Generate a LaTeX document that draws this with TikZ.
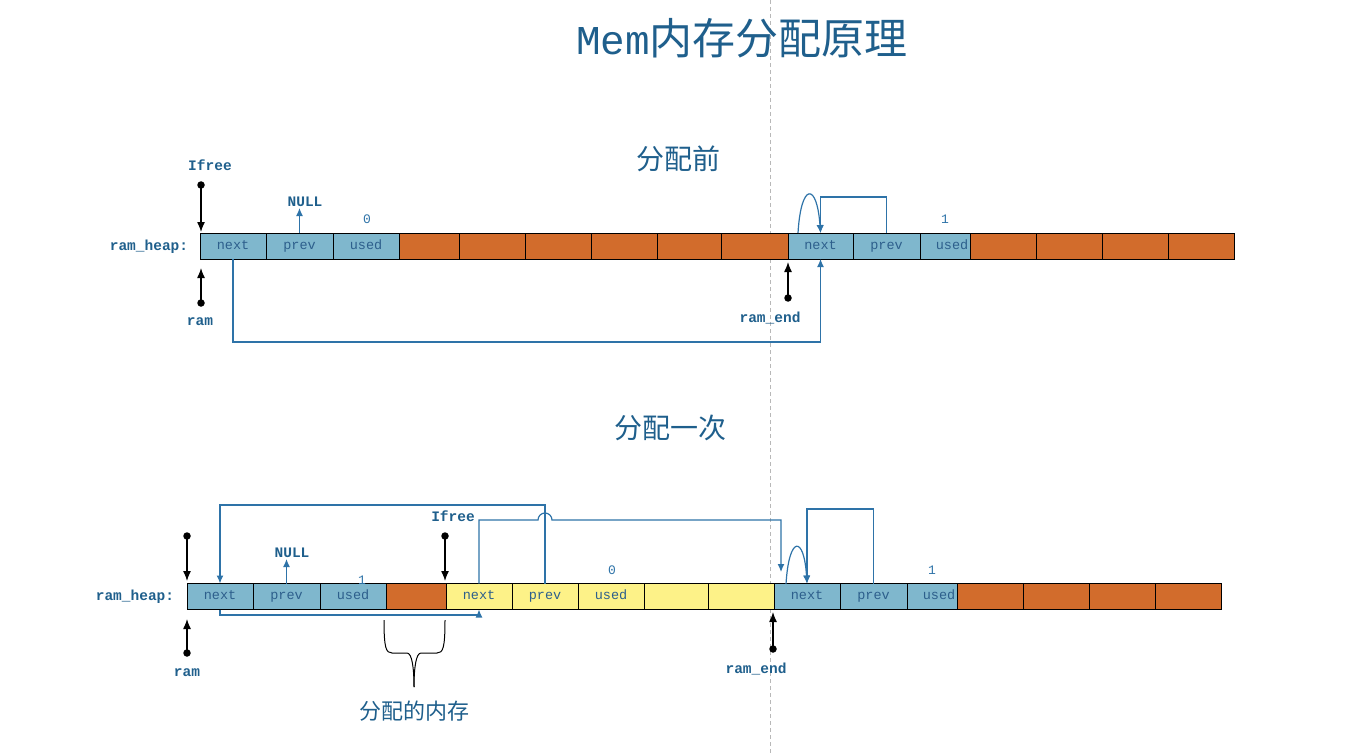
\documentclass[tikz,border=0pt]{standalone}
\usepackage{fontspec}
\setmainfont{Liberation Serif}
\newfontfamily\lmono{Liberation Mono}
\newfontfamily\cjk{Noto Sans CJK SC}
\usetikzlibrary{arrows.meta}
\definecolor{tblue}{RGB}{31,95,140}
\definecolor{lblue}{RGB}{46,115,168}
\definecolor{ctext}{RGB}{45,95,140}
\definecolor{cblue}{RGB}{127,183,205}
\definecolor{corange}{RGB}{210,108,44}
\definecolor{cyellow}{RGB}{253,242,136}
\begin{document}
\begin{tikzpicture}[x=1pt,y=-1pt,
  cell/.style={draw=black, line width=0.9pt, minimum height=26pt, inner sep=0pt, outer sep=0pt,
    text height=9pt, text depth=3pt,
    font=\lmono\fontsize{13.5}{13.5}\selectfont, text=ctext},
  bc/.style={cell, fill=cblue},
  oc/.style={cell, fill=corange},
  yc/.style={cell, fill=cyellow},
  lbl/.style={font=\lmono\bfseries\fontsize{14.5}{15}\selectfont, text=tblue, inner sep=0pt},
  num/.style={font=\lmono\fontsize{13}{13}\selectfont, text=lblue, inner sep=0pt},
  blink/.style={draw=lblue, line width=1.2pt, -{Latex[length=8pt,width=7pt]}},
  barrow/.style={draw=black, line width=1.3pt, -{Latex[length=10pt,width=8pt]}},
  dot/.style={circle, fill=black, inner sep=0pt, minimum size=7.5pt},
  heading/.style={font=\cjk\fontsize{28}{28}\selectfont, text=tblue, inner sep=0pt}]
\useasboundingbox (0,0) rectangle (1364,754);
% dashed guide
\draw[black!28, line width=1pt, dash pattern=on 4pt off 3pt] (770,0) -- (770,754);

% title
\node[inner sep=0pt, text=tblue] (title) at (742,38) {\lmono\fontsize{41}{41}\selectfont Mem\cjk\fontsize{43}{43}\selectfont 内存分配原理};
\node[heading] (h1) at (678,159) {分配前};
\node[heading] (h2) at (670,428) {分配一次};

% ===== top row =====
\node[lbl] (heapT) at (149,247) {ram\_heap:};
\node[bc, minimum width=66pt] (t1) at (233,246) {next};
\node[bc, minimum width=67pt] (t2) at (299.5,246) {prev};
\node[bc, minimum width=66pt] (t3) at (366,246) {used};
\node[oc, minimum width=60pt] (t4) at (429,246) {};
\node[oc, minimum width=66pt] (t5) at (492,246) {};
\node[oc, minimum width=66pt] (t6) at (558,246) {};
\node[oc, minimum width=66pt] (t7) at (624,246) {};
\node[oc, minimum width=64pt] (t8) at (689,246) {};
\node[oc, minimum width=67pt] (t9) at (754.5,246) {};
\node[bc, minimum width=65pt] (t10) at (820.5,246) {next};
\node[bc, minimum width=67pt] (t11) at (886.5,246) {prev};
\node[bc, minimum width=50pt] (t12) at (945,246) {};
\node[cell, draw=none, fill=none] (t12txt) at (952,246) {used};
\node[oc, minimum width=66pt] (t13) at (1003,246) {};
\node[oc, minimum width=66pt] (t14) at (1069,246) {};
\node[oc, minimum width=66pt] (t15) at (1135,246) {};
\node[oc, minimum width=66pt] (t16) at (1201,246) {};

\node[lbl] (ifreeT) at (210,165) {Ifree};
\node[dot] (ifreeTd) at (201,185) {};
\draw[barrow] (ifreeTd.center) -- (201,232);
\node[dot] (ramTd) at (201,303) {};
\draw[barrow] (ramTd.center) -- (201,268);
\node[lbl] (ramT) at (200,322) {ram};
\node[lbl] (nullT) at (305,202) {NULL};
\draw[blink] (t2.north) -- (299.5,208);
\node[num] (zeroT) at (367,219) {0};
\node[num] (oneT) at (945,219) {1};
\node[dot] (ramendTd) at (788,298) {};
\draw[barrow] (ramendTd.center) -- (788,262);
\node[lbl] (ramendT) at (770,318) {ram\_end};

\coordinate (yT0) at (0,342);
\coordinate (yT1) at (0,197);
\draw[blink] (t1.south) -- (t1.south |- yT0) -| (t10.south);
\draw[blink] (t11.north) -- (t11.north |- yT1) -| (t10.north);
\draw[blink] (798,233) .. controls (801,182) and (817,182) .. (t10.north);

% ===== bottom row =====
\node[lbl] (heapB) at (135,597) {ram\_heap:};
\node[bc, minimum width=66pt] (b1) at (220,596.5) {next};
\node[bc, minimum width=67pt] (b2) at (286.5,596.5) {prev};
\node[bc, minimum width=66pt] (b3) at (353,596.5) {used};
\node[oc, minimum width=60pt] (b4) at (416,596.5) {};
\node[yc, minimum width=66pt] (b5) at (479,596.5) {next};
\node[yc, minimum width=66pt] (b6) at (545,596.5) {prev};
\node[yc, minimum width=66pt] (b7) at (611,596.5) {used};
\node[yc, minimum width=64pt] (b8) at (676,596.5) {};
\node[yc, minimum width=66pt] (b9) at (741,596.5) {};
\node[bc, minimum width=66pt] (b10) at (807,596.5) {next};
\node[bc, minimum width=67pt] (b11) at (873.5,596.5) {prev};
\node[bc, minimum width=50pt] (b12) at (932,596.5) {};
\node[cell, draw=none, fill=none] (b12txt) at (939,596.5) {used};
\node[oc, minimum width=66pt] (b13) at (990,596.5) {};
\node[oc, minimum width=66pt] (b14) at (1056,596.5) {};
\node[oc, minimum width=66pt] (b15) at (1122,596.5) {};
\node[oc, minimum width=66pt] (b16) at (1188,596.5) {};

\node[dot] (topBd) at (187,536) {};
\draw[barrow] (topBd.center) -- (187,581);
\node[dot] (ramBd) at (187,653) {};
\draw[barrow] (ramBd.center) -- (187,619);
\node[lbl] (ramB) at (187,673) {ram};
\node[lbl] (nullB) at (292,553) {NULL};
\draw[blink] (b2.north) -- (286.5,559);
\node[num] (oneB1) at (362,580) {1};
\node[num] (zeroB) at (612,570) {0};
\node[num] (oneB2) at (932,570) {1};

\node[lbl] (ifreeB) at (453,516) {Ifree};
\node[dot] (ifreeBd) at (445,536) {};
\draw[barrow] (ifreeBd.center) -- (445,581);

\node[dot] (ramendBd) at (773,649) {};
\draw[barrow] (ramendBd.center) -- (773,612);
\node[lbl] (ramendB) at (756,669) {ram\_end};

\coordinate (yB1) at (0,505);
\coordinate (yB2) at (0,520);
\coordinate (yB3) at (0,615);
\coordinate (yB4) at (0,509);
\coordinate (ifreeEndB) at (781,572);
\draw[blink] (b6.north) -- (b6.north |- yB1) -| (b1.north);
\draw[blink] (b5.north) -- (b5.north |- yB2) -- (538,520) arc[start angle=180, end angle=360, radius=7] -- (ifreeEndB |- yB2) -- (ifreeEndB);
\draw[blink] (b1.south) -- (b1.south |- yB3) -| (b5.south);
\draw[blink] (b11.north) -- (b11.north |- yB4) -| (b10.north);
\draw[blink] (786,584) .. controls (789,535) and (804,535) .. (b10.north);

% brace
\draw[line width=1pt] (384,620) .. controls (384,648) and (386,653) .. (392,653) -- (407,653) .. controls (412,653) and (414,668) .. (414,687);
\draw[line width=1pt] (445,620) .. controls (445,648) and (443,653) .. (437,653) -- (421,653) .. controls (416,653) and (414,668) .. (414,687);
\node[font=\cjk\fontsize{22}{22}\selectfont, text=tblue, inner sep=0pt] (alloc) at (414,711) {分配的内存};
\end{tikzpicture}
\end{document}
